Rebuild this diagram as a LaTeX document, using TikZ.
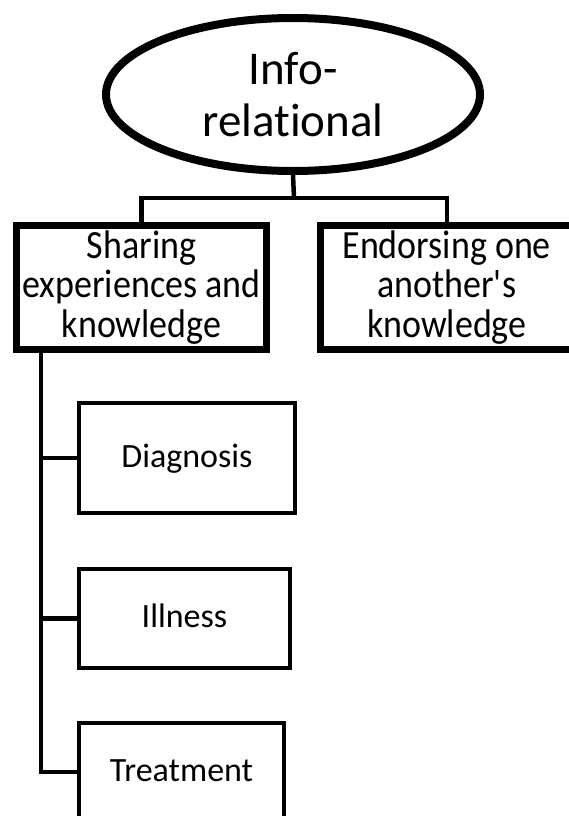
\documentclass[tikz,border=0pt]{standalone}
\usepackage{fontspec}
\setmainfont{Carlito}[Ligatures=NoCommon]
\newfontfamily\tallfont{Carlito}[Ligatures=NoCommon, FakeStretch=0.9]
\usetikzlibrary{shapes.geometric}
\tikzset{
  rootnode/.style={ellipse, draw=black, line width=8pt, inner sep=0pt, align=center,
    font=\fontsize{47}{52}\selectfont},
  topbox/.style={rectangle, draw=black, line width=7pt, inner sep=0pt, align=center,
    minimum height=124pt, font=\tallfont\fontsize{40}{39.5}\selectfont},
  subbox/.style={rectangle, draw=black, line width=4pt, inner sep=0pt,
    text height=24pt, text depth=6pt, font=\fontsize{34}{38}\selectfont},
  conn/.style={draw=black, line width=4.5pt},
}
\begin{document}
\begin{tikzpicture}[x=1pt,y=-1pt]
\useasboundingbox[fill=white] (0,0) rectangle (569,816);
\clip (0,0) rectangle (569,816);
\node[rootnode, minimum width=374pt, minimum height=153pt] (root) at (293,94.5) {Info-\\relational};
\node[topbox, minimum width=250pt] (share) at (141.5,287.5) {Sharing\\experiences and\\knowledge};
\node[topbox, minimum width=252.5pt] (endorse) at (446.75,287.5) {Endorsing one\\another\textquotesingle s\\knowledge};
\node[subbox, minimum width=216pt, minimum height=110pt] (diag) at (187,458) {Diagnosis};
\node[subbox, minimum width=211pt, minimum height=99pt] (ill) at (184.5,618.5) {Illness};
\node[subbox, minimum width=205pt, minimum height=98pt] (treat) at (181.5,772) {Treatment};
\coordinate (bus) at (294,198);
\coordinate (spine) at (41,350);
\draw[conn] (root.south) -- (bus);
\draw[conn] (share.north) |- (bus) -| (endorse.north);
\draw[conn] (spine) |- (diag.west);
\draw[conn] (spine) |- (ill.west);
\draw[conn, line cap=rect] (spine) |- (treat.west);
\end{tikzpicture}
\end{document}
